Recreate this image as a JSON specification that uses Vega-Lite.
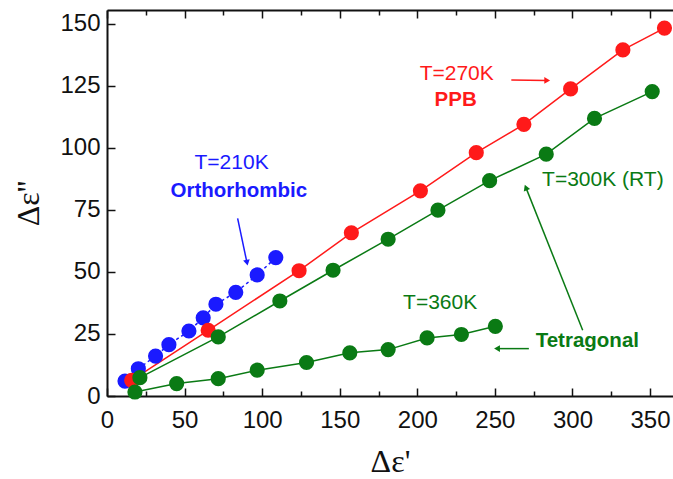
{
  "$schema": "https://vega.github.io/schema/vega-lite/v6.json",
  "width": 566,
  "height": 386,
  "autosize": {"type": "none"},
  "padding": {"left": 107, "top": 10, "right": 0, "bottom": 83},
  "background": "white",
  "config": {
    "view": {"stroke": null},
    "axis": {"grid": false, "domainColor": "#111", "domainWidth": 2, "tickColor": "#111", "tickWidth": 1.5,
      "labelFont": "Liberation Sans", "labelFontSize": 24, "labelColor": "#111", "labelFlush": false,
      "titleFont": "Liberation Serif", "titleFontSize": 32, "titleFontWeight": "normal", "titleColor": "#111"}
  },
  "datasets": {
    "pts": [
      {"series": "T210", "x": 11.6, "y": 6.0},
      {"series": "T210", "x": 20.2, "y": 11.0},
      {"series": "T210", "x": 31.3, "y": 16.1},
      {"series": "T210", "x": 39.9, "y": 20.7},
      {"series": "T210", "x": 52.8, "y": 26.2},
      {"series": "T210", "x": 62.0, "y": 31.5},
      {"series": "T210", "x": 70.2, "y": 37.0},
      {"series": "T210", "x": 83.0, "y": 41.8},
      {"series": "T210", "x": 96.8, "y": 48.8},
      {"series": "T210", "x": 108.8, "y": 55.8},
      {"series": "T270", "x": 15.9, "y": 6.3},
      {"series": "T270", "x": 65.2, "y": 26.5},
      {"series": "T270", "x": 123.8, "y": 50.5},
      {"series": "T270", "x": 157.5, "y": 65.8},
      {"series": "T270", "x": 202.0, "y": 82.7},
      {"series": "T270", "x": 238.0, "y": 98.1},
      {"series": "T270", "x": 268.7, "y": 109.5},
      {"series": "T270", "x": 298.8, "y": 123.8},
      {"series": "T270", "x": 332.5, "y": 139.5},
      {"series": "T270", "x": 359.3, "y": 148.3},
      {"series": "T300", "x": 21.2, "y": 7.4},
      {"series": "T300", "x": 71.7, "y": 23.8},
      {"series": "T300", "x": 111.4, "y": 38.3},
      {"series": "T300", "x": 145.7, "y": 50.7},
      {"series": "T300", "x": 181.2, "y": 63.2},
      {"series": "T300", "x": 213.3, "y": 74.9},
      {"series": "T300", "x": 246.6, "y": 86.8},
      {"series": "T300", "x": 283.1, "y": 97.5},
      {"series": "T300", "x": 314.2, "y": 111.9},
      {"series": "T300", "x": 351.4, "y": 122.7},
      {"series": "T360", "x": 18.0, "y": 1.6},
      {"series": "T360", "x": 44.9, "y": 5.0},
      {"series": "T360", "x": 71.7, "y": 7.0},
      {"series": "T360", "x": 96.8, "y": 10.4},
      {"series": "T360", "x": 128.6, "y": 13.5},
      {"series": "T360", "x": 156.5, "y": 17.4},
      {"series": "T360", "x": 181.2, "y": 18.7},
      {"series": "T360", "x": 206.3, "y": 23.4},
      {"series": "T360", "x": 228.4, "y": 24.8},
      {"series": "T360", "x": 250.3, "y": 28.1}
    ],
    "labels": [
      {"text": "T=210K", "x": 80.3, "y": 93.8, "series": "T210", "bold": false},
      {"text": "Orthorhombic", "x": 85, "y": 82.7, "series": "T210", "bold": true},
      {"text": "T=270K", "x": 225.4, "y": 129.8, "series": "T270", "bold": false},
      {"text": "PPB", "x": 224.7, "y": 119.4, "series": "T270", "bold": true},
      {"text": "T=300K (RT)", "x": 319.6, "y": 87, "series": "T300", "bold": false},
      {"text": "T=360K", "x": 214.7, "y": 37.6, "series": "T360", "bold": false},
      {"text": "Tetragonal", "x": 309.6, "y": 22.1, "series": "T360", "bold": true}
    ],
    "arrows": [
      {"id": "a1", "series": "T210", "x": 84.2, "y": 71.6, "x2": 90.1, "y2": 54.1},
      {"id": "a2", "series": "T270", "x": 260.6, "y": 127.4, "x2": 283.1, "y2": 127.2},
      {"id": "a3", "series": "T300", "x": 306.6, "y": 26.5, "x2": 270.2, "y2": 83.7},
      {"id": "a4", "series": "T360", "x": 271.9, "y": 19.1, "x2": 252.0, "y2": 19.1}
    ]
  },
  "resolve": {"axis": {"x": "independent"}},
  "layer": [
    {
      "data": {"name": "pts"},
      "transform": [{"filter": "datum.series !== 'T210'"}],
      "mark": {"type": "line", "strokeWidth": 1.5},
      "encoding": {
        "x": {"field": "x", "type": "quantitative", "scale": {"domain": [0, 364.8], "nice": false, "zero": false},
          "axis": {"orient": "bottom", "title": "Δε'", "values": [0,25,50,75,100,125,150,175,200,225,250,275,300,325,350],
            "labelExpr": "datum.value % 50 === 0 ? datum.label : ''",
            "tickSize": {"condition": {"test": "datum.value % 50 === 0", "value": -8}, "value": -5},
            "labelPadding": 20, "titlePadding": 14}},
        "y": {"field": "y", "type": "quantitative", "scale": {"domain": [0, 155.6], "nice": false, "zero": false},
          "axis": {"title": "Δε''", "values": [0,12.5,25,37.5,50,62.5,75,87.5,100,112.5,125,137.5,150],
            "labelExpr": "datum.value % 25 === 0 ? datum.label : ''",
            "tickSize": {"condition": {"test": "datum.value % 25 === 0", "value": -8}, "value": -5},
            "labelPadding": 15, "titlePadding": 14}},
        "color": {"field": "series", "type": "nominal", "scale": {"domain": ["T210", "T270", "T300", "T360"], "range": ["#1a1aff", "#ff1a1a", "#0a7a14", "#0a7a14"]}, "legend": null},
        "detail": {"field": "series"}
      }
    },
    {
      "data": {"name": "pts"},
      "transform": [{"filter": "datum.series === 'T210'"}],
      "mark": {"type": "line", "strokeWidth": 1.5, "strokeDash": [3, 3]},
      "encoding": {
        "x": {"field": "x", "type": "quantitative",
          "axis": {"orient": "top", "title": null, "labels": false, "values": [0,25,50,75,100,125,150,175,200,225,250,275,300,325,350],
            "tickSize": {"condition": {"test": "datum.value % 50 === 0", "value": -8}, "value": -5}}},
        "y": {"field": "y", "type": "quantitative"},
        "color": {"field": "series", "type": "nominal", "legend": null}
      }
    },
    {
      "data": {"name": "pts"},
      "mark": {"type": "circle", "size": 230, "opacity": 1},
      "encoding": {
        "x": {"field": "x", "type": "quantitative", "axis": null},
        "y": {"field": "y", "type": "quantitative"},
        "color": {"field": "series", "type": "nominal", "legend": null}
      }
    },
    {
      "data": {"name": "arrows"},
      "mark": {"type": "rule", "strokeWidth": 1.5},
      "encoding": {
        "x": {"field": "x", "type": "quantitative", "axis": null},
        "y": {"field": "y", "type": "quantitative"},
        "x2": {"field": "x2"},
        "y2": {"field": "y2"},
        "color": {"field": "series", "type": "nominal", "legend": null}
      }
    },
    {
      "data": {"name": "arrows"},
      "transform": [{"filter": "datum.id === 'a1'"}],
      "mark": {"type": "point", "shape": "triangle", "filled": true, "size": 45, "angle": 168, "opacity": 1},
      "encoding": {
        "x": {"field": "x2", "type": "quantitative", "axis": null},
        "y": {"field": "y2", "type": "quantitative"},
        "color": {"field": "series", "type": "nominal", "legend": null}
      }
    },
    {
      "data": {"name": "arrows"},
      "transform": [{"filter": "datum.id === 'a2'"}],
      "mark": {"type": "point", "shape": "triangle", "filled": true, "size": 45, "angle": 90, "opacity": 1},
      "encoding": {
        "x": {"field": "x2", "type": "quantitative", "axis": null},
        "y": {"field": "y2", "type": "quantitative"},
        "color": {"field": "series", "type": "nominal", "legend": null}
      }
    },
    {
      "data": {"name": "arrows"},
      "transform": [{"filter": "datum.id === 'a3'"}],
      "mark": {"type": "point", "shape": "triangle", "filled": true, "size": 45, "angle": 338, "opacity": 1},
      "encoding": {
        "x": {"field": "x2", "type": "quantitative", "axis": null},
        "y": {"field": "y2", "type": "quantitative"},
        "color": {"field": "series", "type": "nominal", "legend": null}
      }
    },
    {
      "data": {"name": "arrows"},
      "transform": [{"filter": "datum.id === 'a4'"}],
      "mark": {"type": "point", "shape": "triangle", "filled": true, "size": 45, "angle": 270, "opacity": 1},
      "encoding": {
        "x": {"field": "x2", "type": "quantitative", "axis": null},
        "y": {"field": "y2", "type": "quantitative"},
        "color": {"field": "series", "type": "nominal", "legend": null}
      }
    },
    {
      "data": {"name": "labels"},
      "transform": [{"filter": "!datum.bold"}],
      "mark": {"type": "text", "font": "Liberation Sans", "fontSize": 21, "align": "center", "baseline": "middle"},
      "encoding": {
        "x": {"field": "x", "type": "quantitative", "axis": null},
        "y": {"field": "y", "type": "quantitative"},
        "text": {"field": "text"},
        "color": {"field": "series", "type": "nominal", "legend": null}
      }
    },
    {
      "data": {"name": "labels"},
      "transform": [{"filter": "datum.bold"}],
      "mark": {"type": "text", "font": "Liberation Sans", "fontSize": 20.5, "fontWeight": "bold", "align": "center", "baseline": "middle"},
      "encoding": {
        "x": {"field": "x", "type": "quantitative", "axis": null},
        "y": {"field": "y", "type": "quantitative"},
        "text": {"field": "text"},
        "color": {"field": "series", "type": "nominal", "legend": null}
      }
    }
  ]
}
